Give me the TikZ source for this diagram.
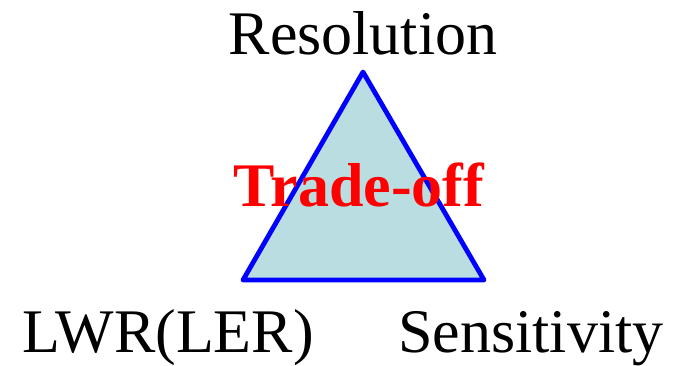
\documentclass[tikz,border=0pt]{standalone}
\usepackage{fontspec}
\setmainfont{Liberation Serif}
\definecolor{trifill}{RGB}{186,221,225}
\definecolor{triline}{RGB}{0,0,255}
\begin{document}
\begin{tikzpicture}[x=1pt,y=1pt,
  lbl/.style={inner sep=0pt, anchor=base, font=\fontsize{62}{62}\selectfont},
  tri/.style={draw=triline, fill=trifill, line width=4.8pt, line join=round}]
\useasboundingbox (0,0) rectangle (682,366);
\coordinate (top) at (363,294);
\coordinate (bl) at (243,86);
\coordinate (br) at (484,86);
\draw[tri] (top) -- (bl) -- (br) -- cycle;
\node[lbl] (res) at (363,311) {Resolution};
\node[lbl, text=red, font=\fontsize{62}{62}\selectfont\bfseries] (trade) at (359,159) {Trade-off};
\node[lbl] (lwr) at (168,13) {LWR(LER)};
\node[lbl] (sens) at (531,13) {Sensitivity};
\end{tikzpicture}
\end{document}
